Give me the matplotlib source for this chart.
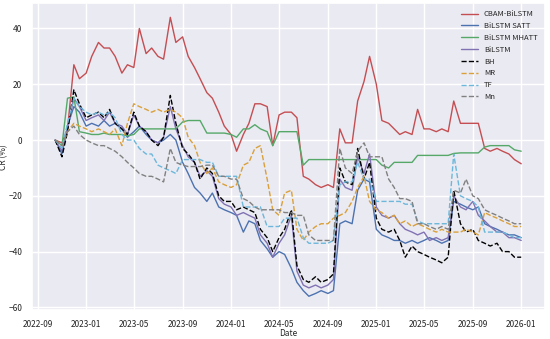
import pandas as pd
import matplotlib
matplotlib.use("Agg")
import matplotlib.pyplot as plt
import matplotlib.dates as mdates
import seaborn as sns

# semi-monthly sampling dates (1st and 15th), 2022-10-15 .. 2026-01-01
dates = pd.date_range("2022-10-15", "2026-01-01", freq="SMS")

cbam_bilstm = [0, -1, 4, 27, 22,
               24, 30, 35, 33, 33, 30, 24, 27, 26, 40, 31, 33, 30, 29, 44, 35, 37, 30, 26, 22, 17, 15, 10, 5,
               2, -4, 2, 6, 13, 13, 12, -2, 9, 10, 10, 8, -13, -14, -16, -17, -16, -17, 4, -1, -1, 14, 21, 30,
               20, 7, 6, 4, 2, 3, 2, 11, 4, 4, 3, 4, 3, 14, 6, 6, 6, 6, -3, -4, -3, -4, -5, -7,
               -8.5]
bilstm_satt = [0, -5, 5, 12, 10,
               5, 6, 5, 7, 5, 6, 4, 1, 3, 5, 2, 0, -1, 0, 2, 0, -8, -12, -17, -19, -22, -19, -24, -25,
               -26, -27, -33, -29, -30, -36, -39, -42, -40, -41, -46, -51, -54, -56, -55, -54, -55, -54, -30, -29, -30, -18, -14, -15,
               -32, -34, -35, -36, -36, -37, -36, -37, -36, -35, -36, -37, -36, -22, -23, -24, -25, -24, -30, -31, -32, -33, -34, -34,
               -35]
bilstm_mhatt = [0, -2, 15, 15.5, 3,
                2.5, 2, 2, 2.5, 2, 2, 2, 1.5, 2, 4, 4, 4, 4, 4, 4, 4, 6.5, 7, 7, 7, 2.5, 2.5, 2.5, 2.5,
                2, 1, 4, 4, 5.5, 4, 3, -2, 3, 3, 3, 3, -9, -7, -7, -7, -7, -7, -7, -7, -7, -7, -7, -7,
                -7, -9, -10, -8, -8, -8, -8, -5.5, -5.5, -5.5, -5.5, -5.5, -5.5, -4.8, -4.6, -4.6, -4.6, -4.6, -2.5, -2, -2, -2, -2, -3.5,
                -4]
bilstm = [0, -4, 4, 15, 12,
          7, 8, 9, 7, 10, 6, 5, 2, 9, 5, 3, 0, -1, 1, 12, 4, -2, -6, -8, -13, -11, -13, -21, -23,
          -24, -27, -26, -27, -28, -34, -37, -42, -37, -34, -27, -47, -52, -53, -52, -53, -52, -50, -14, -17, -18, -6, -12, -5,
          -24, -27, -28, -27, -30, -32, -33, -34, -33, -36, -35, -36, -35, -20, -24, -25, -22, -27, -29, -31, -33, -33, -35, -35,
          -36]
bh = [0, -6, 3, 18, 13,
      8, 9, 10, 8, 11, 6, 4, 2, 10, 5, 3, 0, -2, 1, 16, 6, -3, -5, -8, -14, -10, -12, -20, -22,
      -22, -25, -24, -25, -26, -32, -35, -40, -35, -32, -25, -45, -50, -51, -49, -51, -50, -48, -10, -15, -16, -3, -14, -8,
      -28, -32, -33, -32, -36, -42, -38, -40, -41, -42, -43, -44, -42, -18, -30, -33, -32, -36, -37, -38, -37, -40, -40, -42,
      -42]
mr = [0, -2, 3, 6, 5,
      4, 3, 4, 3, 2, 4, -2, 6, 13, 12, 11, 10, 11, 10, 11, 10, 8, 1, -2, -8, -12, -10, -15, -16,
      -17, -16, -9, -8, -3, -2, -14, -25, -27, -19, -18, -32, -36, -33, -31, -30, -30, -28, -27, -26, -22, -17, -13, -22,
      -25, -26, -28, -27, -30, -29, -31, -30, -31, -32, -33, -32, -33, -33, -33, -32, -33, -34, -26, -27, -28, -29, -30, -31,
      -31]
tf = [0, -3, 6, 15, 12,
      10, 9, 10, 9, 10, 8, 2, 0, 0, -3, -5, -5, -9, -10, -11, -12, -7, -7, -7, -7, -8, -8, -13, -13,
      -13, -13, -24, -24, -24, -24, -31, -31, -31, -28, -28, -28, -35, -37, -37, -37, -37, -36, -16, -15, -15, -8, -14, -14,
      -22, -22, -22, -22, -22, -23, -23, -29, -30, -30, -30, -30, -30, -5, -20, -21, -22, -24, -33, -33, -33, -33, -34, -35,
      -35]
mn = [0, -2, 3, 5, 2,
      0, -1, -2, -2, -3, -4, -6, -8, -10, -12, -13, -13, -14, -15, -3, -8, -9, -9.5, -9.5, -9.5, -9, -9, -13, -13,
      -14, -14, -21, -22, -24, -25, -25, -25, -25, -26, -26, -27, -27, -34, -36, -36, -36, -36, -3, -10, -12, -4, -1, -6,
      -6, -6, -14, -17, -21, -21, -22, -30, -30, -31, -32, -31, -32, -18, -19, -14, -20, -21, -25, -26, -27, -28, -29, -30,
      -30]

sns.set_theme(style="darkgrid")
plt.rcParams["font.family"] = ["Noto Sans CJK SC", "DejaVu Sans"]

fig, ax = plt.subplots(figsize=(5.5, 3.39), dpi=100)

ax.plot(dates, cbam_bilstm, color="#C44E52", lw=1.0, label="CBAM-BiLSTM")
ax.plot(dates, bilstm_satt, color="#4C72B0", lw=1.0, label="BiLSTM SATT")
ax.plot(dates, bilstm_mhatt, color="#55A868", lw=1.0, label="BiLSTM MHATT")
ax.plot(dates, bilstm, color="#8172B3", lw=1.0, label="BiLSTM")
ax.plot(dates, bh, color="black", ls="--", lw=1.0, label="BH")
ax.plot(dates, mr, color="#DAA03A", ls="--", lw=1.0, label="MR")
ax.plot(dates, tf, color="#6CB7DA", ls="--", lw=1.0, label="TF")
ax.plot(dates, mn, color="gray", ls="--", lw=1.0, label="Mn")

ax.xaxis.set_major_locator(mdates.MonthLocator(bymonth=[1, 5, 9]))
ax.xaxis.set_major_formatter(mdates.DateFormatter("%Y-%m"))
ax.tick_params(labelsize=6, pad=1)
ax.set_xlabel("Date", fontsize=6, labelpad=0)
ax.set_ylabel("CR (%)", fontsize=6, labelpad=0)
ax.legend(loc="upper right", fontsize=5.5, frameon=False, handlelength=2.2)

fig.subplots_adjust(left=0.058, right=0.99, top=0.99, bottom=0.085)
fig.savefig("out.png", dpi=100)
